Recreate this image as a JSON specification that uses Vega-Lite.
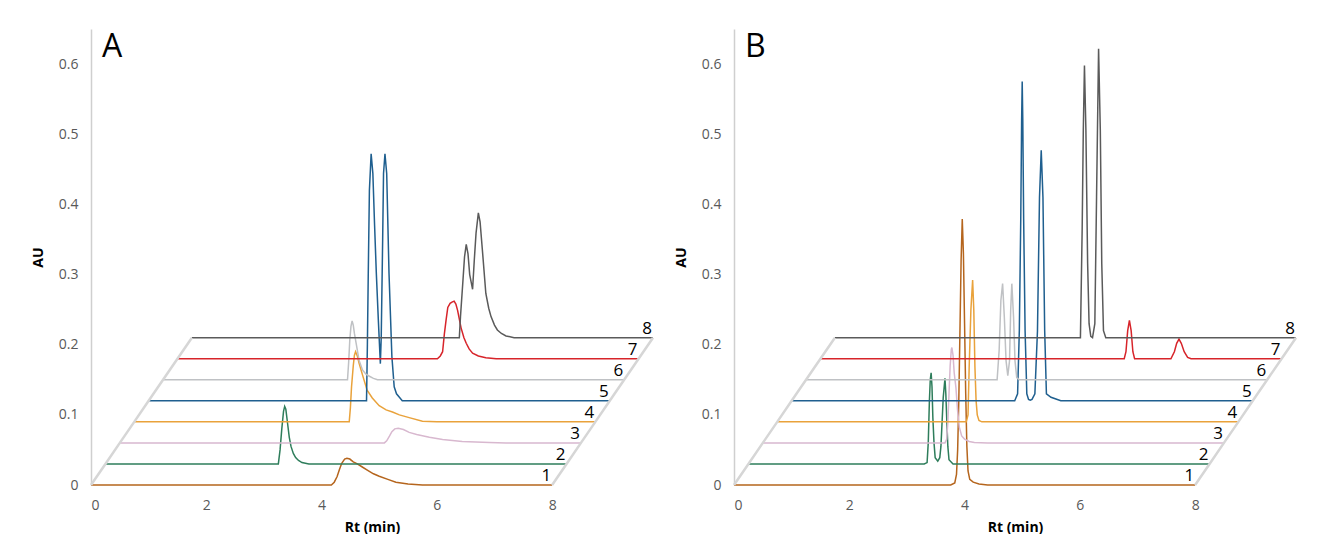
{
  "$schema": "https://vega.github.io/schema/vega-lite/v6.json",
  "padding": {"left": 31, "top": 29, "right": 0, "bottom": 0},
  "background": "white",
  "spacing": 16,
  "config": {
    "view": {"stroke": null},
    "font": "Open Sans",
    "axis": {
      "labelFont": "Open Sans",
      "labelFontSize": 14,
      "labelColor": "#595959",
      "titleFont": "Open Sans",
      "titleFontSize": 14,
      "titleFontWeight": "bold",
      "titleColor": "#000000",
      "grid": false,
      "ticks": false,
      "tickSize": 0,
      "labelPadding": 13
    }
  },
  "datasets": {
    "A": [
      {"trace": 1, "rt": 0, "au": 0}, {"trace": 1, "rt": 4.17, "au": 0}, {"trace": 1, "rt": 4.22, "au": 0.004},
      {"trace": 1, "rt": 4.27, "au": 0.012}, {"trace": 1, "rt": 4.31, "au": 0.022}, {"trace": 1, "rt": 4.35, "au": 0.031},
      {"trace": 1, "rt": 4.40, "au": 0.037}, {"trace": 1, "rt": 4.44, "au": 0.038}, {"trace": 1, "rt": 4.49, "au": 0.037},
      {"trace": 1, "rt": 4.55, "au": 0.033}, {"trace": 1, "rt": 4.62, "au": 0.030}, {"trace": 1, "rt": 4.70, "au": 0.026},
      {"trace": 1, "rt": 4.80, "au": 0.021}, {"trace": 1, "rt": 4.90, "au": 0.016}, {"trace": 1, "rt": 5.00, "au": 0.0125},
      {"trace": 1, "rt": 5.15, "au": 0.008}, {"trace": 1, "rt": 5.29, "au": 0.004}, {"trace": 1, "rt": 5.50, "au": 0.0015},
      {"trace": 1, "rt": 5.75, "au": 0}, {"trace": 1, "rt": 8, "au": 0},

      {"trace": 2, "rt": 0.25, "au": 0.03}, {"trace": 2, "rt": 3.25, "au": 0.03}, {"trace": 2, "rt": 3.28, "au": 0.05},
      {"trace": 2, "rt": 3.31, "au": 0.08}, {"trace": 2, "rt": 3.34, "au": 0.105}, {"trace": 2, "rt": 3.36, "au": 0.112},
      {"trace": 2, "rt": 3.38, "au": 0.108}, {"trace": 2, "rt": 3.41, "au": 0.088}, {"trace": 2, "rt": 3.44, "au": 0.068},
      {"trace": 2, "rt": 3.47, "au": 0.055}, {"trace": 2, "rt": 3.51, "au": 0.045}, {"trace": 2, "rt": 3.55, "au": 0.039},
      {"trace": 2, "rt": 3.60, "au": 0.035}, {"trace": 2, "rt": 3.66, "au": 0.032}, {"trace": 2, "rt": 3.78, "au": 0.03},
      {"trace": 2, "rt": 8.25, "au": 0.03},

      {"trace": 3, "rt": 0.5, "au": 0.06}, {"trace": 3, "rt": 5.09, "au": 0.06}, {"trace": 3, "rt": 5.13, "au": 0.063},
      {"trace": 3, "rt": 5.18, "au": 0.070}, {"trace": 3, "rt": 5.22, "au": 0.076}, {"trace": 3, "rt": 5.27, "au": 0.080},
      {"trace": 3, "rt": 5.33, "au": 0.081}, {"trace": 3, "rt": 5.42, "au": 0.079}, {"trace": 3, "rt": 5.52, "au": 0.075},
      {"trace": 3, "rt": 5.65, "au": 0.072}, {"trace": 3, "rt": 5.87, "au": 0.068}, {"trace": 3, "rt": 6.10, "au": 0.065},
      {"trace": 3, "rt": 6.44, "au": 0.062}, {"trace": 3, "rt": 6.91, "au": 0.0605}, {"trace": 3, "rt": 7.2, "au": 0.06},
      {"trace": 3, "rt": 8.5, "au": 0.06},

      {"trace": 4, "rt": 0.75, "au": 0.09}, {"trace": 4, "rt": 4.48, "au": 0.09}, {"trace": 4, "rt": 4.50, "au": 0.11},
      {"trace": 4, "rt": 4.52, "au": 0.14}, {"trace": 4, "rt": 4.55, "au": 0.17}, {"trace": 4, "rt": 4.57, "au": 0.185},
      {"trace": 4, "rt": 4.59, "au": 0.19}, {"trace": 4, "rt": 4.62, "au": 0.184}, {"trace": 4, "rt": 4.65, "au": 0.174},
      {"trace": 4, "rt": 4.71, "au": 0.157}, {"trace": 4, "rt": 4.79, "au": 0.135}, {"trace": 4, "rt": 4.88, "au": 0.124},
      {"trace": 4, "rt": 5.00, "au": 0.113}, {"trace": 4, "rt": 5.12, "au": 0.107}, {"trace": 4, "rt": 5.23, "au": 0.104},
      {"trace": 4, "rt": 5.35, "au": 0.100}, {"trace": 4, "rt": 5.52, "au": 0.096}, {"trace": 4, "rt": 5.75, "au": 0.091},
      {"trace": 4, "rt": 6.0, "au": 0.09}, {"trace": 4, "rt": 8.75, "au": 0.09},

      {"trace": 5, "rt": 1.0, "au": 0.12}, {"trace": 5, "rt": 4.78, "au": 0.12}, {"trace": 5, "rt": 4.795, "au": 0.2},
      {"trace": 5, "rt": 4.81, "au": 0.3}, {"trace": 5, "rt": 4.83, "au": 0.42}, {"trace": 5, "rt": 4.86, "au": 0.472},
      {"trace": 5, "rt": 4.89, "au": 0.444}, {"trace": 5, "rt": 4.92, "au": 0.37}, {"trace": 5, "rt": 4.95, "au": 0.302},
      {"trace": 5, "rt": 4.985, "au": 0.235}, {"trace": 5, "rt": 5.02, "au": 0.173}, {"trace": 5, "rt": 5.035, "au": 0.21},
      {"trace": 5, "rt": 5.06, "au": 0.35}, {"trace": 5, "rt": 5.075, "au": 0.444}, {"trace": 5, "rt": 5.10, "au": 0.472},
      {"trace": 5, "rt": 5.13, "au": 0.444}, {"trace": 5, "rt": 5.17, "au": 0.302}, {"trace": 5, "rt": 5.22, "au": 0.183},
      {"trace": 5, "rt": 5.26, "au": 0.14}, {"trace": 5, "rt": 5.30, "au": 0.13}, {"trace": 5, "rt": 5.35, "au": 0.125},
      {"trace": 5, "rt": 5.40, "au": 0.12}, {"trace": 5, "rt": 9.0, "au": 0.12},

      {"trace": 6, "rt": 1.25, "au": 0.15}, {"trace": 6, "rt": 4.45, "au": 0.15}, {"trace": 6, "rt": 4.47, "au": 0.175},
      {"trace": 6, "rt": 4.49, "au": 0.207}, {"trace": 6, "rt": 4.51, "au": 0.226}, {"trace": 6, "rt": 4.53, "au": 0.234},
      {"trace": 6, "rt": 4.55, "au": 0.228}, {"trace": 6, "rt": 4.57, "au": 0.216}, {"trace": 6, "rt": 4.60, "au": 0.202},
      {"trace": 6, "rt": 4.65, "au": 0.178}, {"trace": 6, "rt": 4.71, "au": 0.164}, {"trace": 6, "rt": 4.77, "au": 0.158},
      {"trace": 6, "rt": 4.83, "au": 0.155}, {"trace": 6, "rt": 4.90, "au": 0.152}, {"trace": 6, "rt": 4.97, "au": 0.15},
      {"trace": 6, "rt": 9.25, "au": 0.15},

      {"trace": 7, "rt": 1.5, "au": 0.18}, {"trace": 7, "rt": 6.01, "au": 0.18}, {"trace": 7, "rt": 6.06, "au": 0.184},
      {"trace": 7, "rt": 6.10, "au": 0.19}, {"trace": 7, "rt": 6.13, "au": 0.215}, {"trace": 7, "rt": 6.16, "au": 0.235},
      {"trace": 7, "rt": 6.19, "au": 0.253}, {"trace": 7, "rt": 6.23, "au": 0.259}, {"trace": 7, "rt": 6.27, "au": 0.261},
      {"trace": 7, "rt": 6.30, "au": 0.262}, {"trace": 7, "rt": 6.33, "au": 0.258}, {"trace": 7, "rt": 6.36, "au": 0.249},
      {"trace": 7, "rt": 6.42, "au": 0.224}, {"trace": 7, "rt": 6.47, "au": 0.21}, {"trace": 7, "rt": 6.51, "au": 0.202},
      {"trace": 7, "rt": 6.56, "au": 0.194}, {"trace": 7, "rt": 6.62, "au": 0.188}, {"trace": 7, "rt": 6.72, "au": 0.184},
      {"trace": 7, "rt": 6.85, "au": 0.1815}, {"trace": 7, "rt": 7.03, "au": 0.18}, {"trace": 7, "rt": 9.5, "au": 0.18},

      {"trace": 8, "rt": 1.75, "au": 0.21}, {"trace": 8, "rt": 6.39, "au": 0.21}, {"trace": 8, "rt": 6.41, "au": 0.24},
      {"trace": 8, "rt": 6.45, "au": 0.288}, {"trace": 8, "rt": 6.48, "au": 0.325}, {"trace": 8, "rt": 6.51, "au": 0.343},
      {"trace": 8, "rt": 6.54, "au": 0.33}, {"trace": 8, "rt": 6.57, "au": 0.30}, {"trace": 8, "rt": 6.62, "au": 0.279},
      {"trace": 8, "rt": 6.65, "au": 0.321}, {"trace": 8, "rt": 6.68, "au": 0.359}, {"trace": 8, "rt": 6.72, "au": 0.388},
      {"trace": 8, "rt": 6.75, "au": 0.375}, {"trace": 8, "rt": 6.79, "au": 0.335}, {"trace": 8, "rt": 6.85, "au": 0.273},
      {"trace": 8, "rt": 6.90, "au": 0.252}, {"trace": 8, "rt": 6.94, "au": 0.240}, {"trace": 8, "rt": 7.00, "au": 0.228},
      {"trace": 8, "rt": 7.05, "au": 0.221}, {"trace": 8, "rt": 7.12, "au": 0.216}, {"trace": 8, "rt": 7.20, "au": 0.2125},
      {"trace": 8, "rt": 7.34, "au": 0.21}, {"trace": 8, "rt": 9.75, "au": 0.21}
    ],
    "B": [
      {"trace": 1, "rt": 0, "au": 0}, {"trace": 1, "rt": 3.76, "au": 0}, {"trace": 1, "rt": 3.83, "au": 0.003},
      {"trace": 1, "rt": 3.86, "au": 0.015}, {"trace": 1, "rt": 3.88, "au": 0.05}, {"trace": 1, "rt": 3.90, "au": 0.12},
      {"trace": 1, "rt": 3.92, "au": 0.22}, {"trace": 1, "rt": 3.94, "au": 0.32}, {"trace": 1, "rt": 3.96, "au": 0.379},
      {"trace": 1, "rt": 3.98, "au": 0.33}, {"trace": 1, "rt": 4.00, "au": 0.23}, {"trace": 1, "rt": 4.02, "au": 0.13},
      {"trace": 1, "rt": 4.04, "au": 0.055}, {"trace": 1, "rt": 4.06, "au": 0.02}, {"trace": 1, "rt": 4.09, "au": 0.008},
      {"trace": 1, "rt": 4.15, "au": 0.004}, {"trace": 1, "rt": 4.25, "au": 0.0015}, {"trace": 1, "rt": 4.40, "au": 0},
      {"trace": 1, "rt": 8, "au": 0},

      {"trace": 2, "rt": 0.25, "au": 0.03}, {"trace": 2, "rt": 3.30, "au": 0.03}, {"trace": 2, "rt": 3.35, "au": 0.032},
      {"trace": 2, "rt": 3.37, "au": 0.06}, {"trace": 2, "rt": 3.39, "au": 0.12}, {"trace": 2, "rt": 3.405, "au": 0.15},
      {"trace": 2, "rt": 3.42, "au": 0.16}, {"trace": 2, "rt": 3.435, "au": 0.14}, {"trace": 2, "rt": 3.45, "au": 0.096},
      {"trace": 2, "rt": 3.47, "au": 0.06}, {"trace": 2, "rt": 3.49, "au": 0.039}, {"trace": 2, "rt": 3.535, "au": 0.034},
      {"trace": 2, "rt": 3.57, "au": 0.039}, {"trace": 2, "rt": 3.59, "au": 0.055}, {"trace": 2, "rt": 3.61, "au": 0.09},
      {"trace": 2, "rt": 3.63, "au": 0.125}, {"trace": 2, "rt": 3.66, "au": 0.152}, {"trace": 2, "rt": 3.675, "au": 0.13},
      {"trace": 2, "rt": 3.69, "au": 0.096}, {"trace": 2, "rt": 3.71, "au": 0.055}, {"trace": 2, "rt": 3.73, "au": 0.036},
      {"trace": 2, "rt": 3.80, "au": 0.03}, {"trace": 2, "rt": 8.25, "au": 0.03},

      {"trace": 3, "rt": 0.5, "au": 0.06}, {"trace": 3, "rt": 3.66, "au": 0.06}, {"trace": 3, "rt": 3.69, "au": 0.065},
      {"trace": 3, "rt": 3.71, "au": 0.09}, {"trace": 3, "rt": 3.73, "au": 0.13}, {"trace": 3, "rt": 3.75, "au": 0.17},
      {"trace": 3, "rt": 3.77, "au": 0.193}, {"trace": 3, "rt": 3.78, "au": 0.196}, {"trace": 3, "rt": 3.80, "au": 0.185},
      {"trace": 3, "rt": 3.82, "au": 0.16}, {"trace": 3, "rt": 3.85, "au": 0.139}, {"trace": 3, "rt": 3.88, "au": 0.105},
      {"trace": 3, "rt": 3.91, "au": 0.082}, {"trace": 3, "rt": 3.95, "au": 0.07}, {"trace": 3, "rt": 4.00, "au": 0.0654},
      {"trace": 3, "rt": 4.08, "au": 0.062}, {"trace": 3, "rt": 4.17, "au": 0.0605}, {"trace": 3, "rt": 4.40, "au": 0.06},
      {"trace": 3, "rt": 8.5, "au": 0.06},

      {"trace": 4, "rt": 0.75, "au": 0.09}, {"trace": 4, "rt": 4.03, "au": 0.09}, {"trace": 4, "rt": 4.06, "au": 0.1},
      {"trace": 4, "rt": 4.08, "au": 0.168}, {"trace": 4, "rt": 4.11, "au": 0.25}, {"trace": 4, "rt": 4.14, "au": 0.292},
      {"trace": 4, "rt": 4.16, "au": 0.25}, {"trace": 4, "rt": 4.18, "au": 0.168}, {"trace": 4, "rt": 4.20, "au": 0.12},
      {"trace": 4, "rt": 4.22, "au": 0.1}, {"trace": 4, "rt": 4.25, "au": 0.092}, {"trace": 4, "rt": 4.30, "au": 0.09},
      {"trace": 4, "rt": 8.75, "au": 0.09},

      {"trace": 5, "rt": 1.0, "au": 0.12}, {"trace": 5, "rt": 4.87, "au": 0.12}, {"trace": 5, "rt": 4.92, "au": 0.13},
      {"trace": 5, "rt": 4.95, "au": 0.22}, {"trace": 5, "rt": 4.975, "au": 0.38}, {"trace": 5, "rt": 4.99, "au": 0.52},
      {"trace": 5, "rt": 5.00, "au": 0.575}, {"trace": 5, "rt": 5.01, "au": 0.52}, {"trace": 5, "rt": 5.025, "au": 0.38},
      {"trace": 5, "rt": 5.05, "au": 0.22}, {"trace": 5, "rt": 5.08, "au": 0.13}, {"trace": 5, "rt": 5.11, "au": 0.122},
      {"trace": 5, "rt": 5.14, "au": 0.121}, {"trace": 5, "rt": 5.17, "au": 0.122}, {"trace": 5, "rt": 5.22, "au": 0.13},
      {"trace": 5, "rt": 5.265, "au": 0.22}, {"trace": 5, "rt": 5.30, "au": 0.41}, {"trace": 5, "rt": 5.33, "au": 0.477},
      {"trace": 5, "rt": 5.36, "au": 0.41}, {"trace": 5, "rt": 5.39, "au": 0.22}, {"trace": 5, "rt": 5.42, "au": 0.13},
      {"trace": 5, "rt": 5.50, "au": 0.125}, {"trace": 5, "rt": 5.67, "au": 0.12}, {"trace": 5, "rt": 9.0, "au": 0.12},

      {"trace": 6, "rt": 1.25, "au": 0.15}, {"trace": 6, "rt": 4.565, "au": 0.15}, {"trace": 6, "rt": 4.60, "au": 0.192},
      {"trace": 6, "rt": 4.63, "au": 0.263}, {"trace": 6, "rt": 4.66, "au": 0.287}, {"trace": 6, "rt": 4.69, "au": 0.239},
      {"trace": 6, "rt": 4.72, "au": 0.177}, {"trace": 6, "rt": 4.75, "au": 0.156}, {"trace": 6, "rt": 4.78, "au": 0.177},
      {"trace": 6, "rt": 4.80, "au": 0.249}, {"trace": 6, "rt": 4.82, "au": 0.287}, {"trace": 6, "rt": 4.85, "au": 0.239},
      {"trace": 6, "rt": 4.875, "au": 0.177}, {"trace": 6, "rt": 4.905, "au": 0.153}, {"trace": 6, "rt": 4.95, "au": 0.15},
      {"trace": 6, "rt": 9.25, "au": 0.15},

      {"trace": 7, "rt": 1.5, "au": 0.18}, {"trace": 7, "rt": 6.77, "au": 0.18}, {"trace": 7, "rt": 6.80, "au": 0.19},
      {"trace": 7, "rt": 6.83, "au": 0.22}, {"trace": 7, "rt": 6.86, "au": 0.2346}, {"trace": 7, "rt": 6.89, "au": 0.22},
      {"trace": 7, "rt": 6.92, "au": 0.19}, {"trace": 7, "rt": 6.95, "au": 0.18}, {"trace": 7, "rt": 7.58, "au": 0.18},
      {"trace": 7, "rt": 7.64, "au": 0.19}, {"trace": 7, "rt": 7.68, "au": 0.202}, {"trace": 7, "rt": 7.72, "au": 0.208},
      {"trace": 7, "rt": 7.76, "au": 0.202}, {"trace": 7, "rt": 7.81, "au": 0.19}, {"trace": 7, "rt": 7.87, "au": 0.182},
      {"trace": 7, "rt": 7.93, "au": 0.18}, {"trace": 7, "rt": 9.5, "au": 0.18},

      {"trace": 8, "rt": 1.75, "au": 0.21}, {"trace": 8, "rt": 6.01, "au": 0.21}, {"trace": 8, "rt": 6.04, "au": 0.363},
      {"trace": 8, "rt": 6.06, "au": 0.506}, {"trace": 8, "rt": 6.08, "au": 0.598}, {"trace": 8, "rt": 6.105, "au": 0.506},
      {"trace": 8, "rt": 6.135, "au": 0.316}, {"trace": 8, "rt": 6.16, "au": 0.23}, {"trace": 8, "rt": 6.19, "au": 0.212},
      {"trace": 8, "rt": 6.22, "au": 0.21}, {"trace": 8, "rt": 6.26, "au": 0.23}, {"trace": 8, "rt": 6.29, "au": 0.411},
      {"trace": 8, "rt": 6.325, "au": 0.622}, {"trace": 8, "rt": 6.355, "au": 0.506}, {"trace": 8, "rt": 6.38, "au": 0.316},
      {"trace": 8, "rt": 6.41, "au": 0.22}, {"trace": 8, "rt": 6.45, "au": 0.21}, {"trace": 8, "rt": 9.75, "au": 0.21}
    ]
  },
  "hconcat": [
    {
      "width": 562,
      "height": 456,
      "layer": [
        {
          "data": {"name": "A"},
          "mark": {"type": "line", "strokeWidth": 1.5},
          "encoding": {
            "x": {
              "field": "rt", "type": "quantitative", "title": "Rt (min)",
              "scale": {"domain": [0, 9.75], "nice": false},
              "axis": {"values": [0, 2, 4, 6, 8], "format": "d", "domain": false, "titlePadding": 8}
            },
            "y": {
              "field": "au", "type": "quantitative", "title": "AU",
              "scale": {"domain": [0, 0.65], "nice": false},
              "axis": {"values": [0, 0.1, 0.2, 0.3, 0.4, 0.5, 0.6], "format": "~g", "domainColor": "#CFCFCF", "domainWidth": 1.5, "titlePadding": 13}
            },
            "color": {
              "field": "trace", "type": "nominal", "legend": null,
              "scale": {"domain": [1, 2, 3, 4, 5, 6, 7, 8], "range": ["#B5651D", "#2E7D5B", "#D8B8CF", "#E9A23B", "#1F5F8F", "#BFC1C4", "#D7242A", "#5A5A5A"]}
            }
          }
        },
        {
          "data": {"name": "A"},
          "transform": [{"aggregate": [{"op": "argmin", "field": "rt", "as": "first"}], "groupby": ["trace"]}],
          "mark": {"type": "line", "color": "#D6D6D6", "strokeWidth": 2.5},
          "encoding": {
            "x": {"field": "first.rt", "type": "quantitative", "title": "Rt (min)", "scale": {"domain": [0, 9.75], "nice": false}},
            "y": {"field": "first.au", "type": "quantitative", "title": "AU", "scale": {"domain": [0, 0.65], "nice": false}}
          }
        },
        {
          "data": {"name": "A"},
          "transform": [{"aggregate": [{"op": "argmax", "field": "rt", "as": "last"}], "groupby": ["trace"]}],
          "mark": {"type": "line", "color": "#D6D6D6", "strokeWidth": 2.5},
          "encoding": {
            "x": {"field": "last.rt", "type": "quantitative", "title": "Rt (min)", "scale": {"domain": [0, 9.75], "nice": false}},
            "y": {"field": "last.au", "type": "quantitative", "title": "AU", "scale": {"domain": [0, 0.65], "nice": false}}
          }
        },
        {
          "data": {"name": "A"},
          "transform": [{"aggregate": [{"op": "argmax", "field": "rt", "as": "last"}], "groupby": ["trace"]}],
          "mark": {"type": "text", "align": "right", "baseline": "alphabetic", "dx": -1, "dy": -4, "fontSize": 17, "font": "Open Sans", "color": "#000000"},
          "encoding": {
            "x": {"field": "last.rt", "type": "quantitative", "title": "Rt (min)", "scale": {"domain": [0, 9.75], "nice": false}},
            "y": {"field": "last.au", "type": "quantitative", "title": "AU", "scale": {"domain": [0, 0.65], "nice": false}},
            "text": {"field": "trace"}
          }
        },
        {
          "data": {"values": [{"panel": "A"}]},
          "mark": {"type": "text", "align": "left", "baseline": "alphabetic", "dx": 11, "dy": 28, "fontSize": 32, "font": "Open Sans", "color": "#000000"},
          "encoding": {
            "x": {"datum": 0, "type": "quantitative", "title": "Rt (min)", "scale": {"domain": [0, 9.75], "nice": false}},
            "y": {"datum": 0.65, "type": "quantitative", "title": "AU", "scale": {"domain": [0, 0.65], "nice": false}},
            "text": {"field": "panel"}
          }
        }
      ]
    },
    {
      "width": 562,
      "height": 456,
      "layer": [
        {
          "data": {"name": "B"},
          "mark": {"type": "line", "strokeWidth": 1.5},
          "encoding": {
            "x": {
              "field": "rt", "type": "quantitative", "title": "Rt (min)",
              "scale": {"domain": [0, 9.75], "nice": false},
              "axis": {"values": [0, 2, 4, 6, 8], "format": "d", "domain": false, "titlePadding": 8}
            },
            "y": {
              "field": "au", "type": "quantitative", "title": "AU",
              "scale": {"domain": [0, 0.65], "nice": false},
              "axis": {"values": [0, 0.1, 0.2, 0.3, 0.4, 0.5, 0.6], "format": "~g", "domainColor": "#CFCFCF", "domainWidth": 1.5, "titlePadding": 13}
            },
            "color": {
              "field": "trace", "type": "nominal", "legend": null,
              "scale": {"domain": [1, 2, 3, 4, 5, 6, 7, 8], "range": ["#B5651D", "#2E7D5B", "#D8B8CF", "#E9A23B", "#1F5F8F", "#BFC1C4", "#D7242A", "#5A5A5A"]}
            }
          }
        },
        {
          "data": {"name": "B"},
          "transform": [{"aggregate": [{"op": "argmin", "field": "rt", "as": "first"}], "groupby": ["trace"]}],
          "mark": {"type": "line", "color": "#D6D6D6", "strokeWidth": 2.5},
          "encoding": {
            "x": {"field": "first.rt", "type": "quantitative", "title": "Rt (min)", "scale": {"domain": [0, 9.75], "nice": false}},
            "y": {"field": "first.au", "type": "quantitative", "title": "AU", "scale": {"domain": [0, 0.65], "nice": false}}
          }
        },
        {
          "data": {"name": "B"},
          "transform": [{"aggregate": [{"op": "argmax", "field": "rt", "as": "last"}], "groupby": ["trace"]}],
          "mark": {"type": "line", "color": "#D6D6D6", "strokeWidth": 2.5},
          "encoding": {
            "x": {"field": "last.rt", "type": "quantitative", "title": "Rt (min)", "scale": {"domain": [0, 9.75], "nice": false}},
            "y": {"field": "last.au", "type": "quantitative", "title": "AU", "scale": {"domain": [0, 0.65], "nice": false}}
          }
        },
        {
          "data": {"name": "B"},
          "transform": [{"aggregate": [{"op": "argmax", "field": "rt", "as": "last"}], "groupby": ["trace"]}],
          "mark": {"type": "text", "align": "right", "baseline": "alphabetic", "dx": -1, "dy": -4, "fontSize": 17, "font": "Open Sans", "color": "#000000"},
          "encoding": {
            "x": {"field": "last.rt", "type": "quantitative", "title": "Rt (min)", "scale": {"domain": [0, 9.75], "nice": false}},
            "y": {"field": "last.au", "type": "quantitative", "title": "AU", "scale": {"domain": [0, 0.65], "nice": false}},
            "text": {"field": "trace"}
          }
        },
        {
          "data": {"values": [{"panel": "B"}]},
          "mark": {"type": "text", "align": "left", "baseline": "alphabetic", "dx": 11, "dy": 28, "fontSize": 32, "font": "Open Sans", "color": "#000000"},
          "encoding": {
            "x": {"datum": 0, "type": "quantitative", "title": "Rt (min)", "scale": {"domain": [0, 9.75], "nice": false}},
            "y": {"datum": 0.65, "type": "quantitative", "title": "AU", "scale": {"domain": [0, 0.65], "nice": false}},
            "text": {"field": "panel"}
          }
        }
      ]
    }
  ]
}
